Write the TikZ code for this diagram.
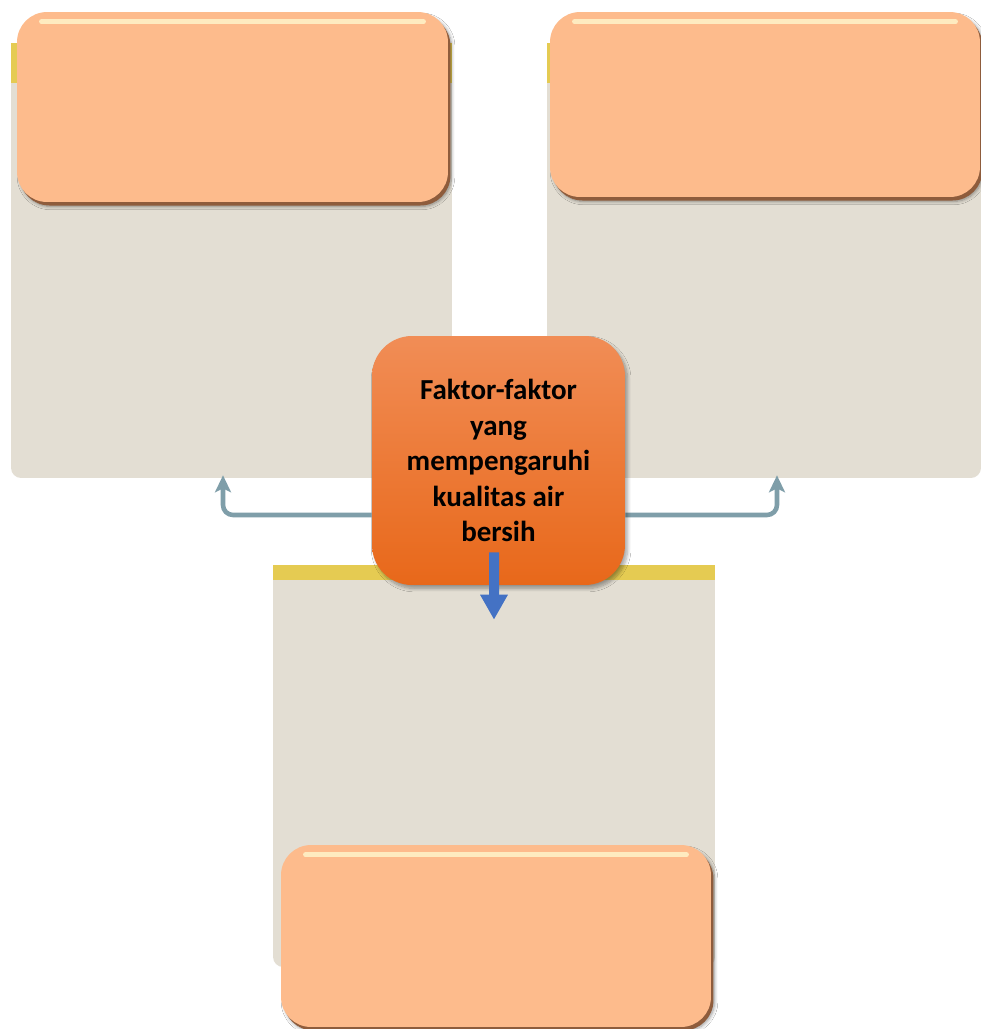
\documentclass[tikz,border=0pt]{standalone}
\usepackage{fontspec}
\setmainfont{Carlito}
\usetikzlibrary{positioning,arrows.meta,shadows,shadows.blur}
\pgfdeclarelayer{front}
\pgfsetlayers{main,front}
\definecolor{panelbeige}{HTML}{E3DED3}
\definecolor{bandyellow}{HTML}{E5CB52}
\definecolor{peach}{HTML}{FDBB8C}
\definecolor{peachrim}{HTML}{8E5C3C}
\definecolor{peachlight}{HTML}{FFF1C6}
\definecolor{hubtop}{HTML}{F18D56}
\definecolor{hubbottom}{HTML}{E8681A}
\definecolor{linkgray}{HTML}{7F9EA9}
\definecolor{downblue}{HTML}{4472C4}

\begin{document}
\begin{tikzpicture}[
    x=0.02cm, y=-0.02cm,
    panel/.style={fill=panelbeige,rounded corners=0.2cm,inner sep=0pt},
    pbox/.style={fill=peach,rounded corners=0.6cm,inner sep=0pt,
      blur shadow={shadow xshift=2pt,shadow yshift=-2.5pt,shadow opacity=40,shadow blur steps=8},
      general shadow={fill=peachrim,shadow xshift=1.4pt,shadow yshift=-2pt}},
    gleam/.style={peachlight,line width=3pt,line cap=round,opacity=.9},
    hubbox/.style={top color=hubtop,bottom color=hubbottom,rounded corners=0.8cm,
      minimum width=5.06cm,minimum height=4.98cm,inner sep=0pt,align=center,
      font=\bfseries\fontsize{16.5}{20.2}\selectfont,
      blur shadow={shadow xshift=1.5pt,shadow yshift=-2pt,shadow opacity=35,shadow blur steps=8}},
    conn/.style={draw=linkgray,line width=2.6pt,rounded corners=0.2cm,
      -{Stealth[length=0.34cm,width=0.32cm,inset=0.08cm]}},
    downarrow/.style={draw=downblue,line width=0.2cm,-{Triangle[length=0.5cm,width=0.52cm]}}
  ]

  \path[use as bounding box,fill=white] (0,0) rectangle (981,1029);

  % panels
  \node[panel,minimum width=8.82cm,minimum height=8.7cm] (lpanel) at (231.5,260.5) {};
  \node[panel,minimum width=8.68cm,minimum height=8.7cm] (rpanel) at (764,260.5) {};
  \node[panel,minimum width=8.84cm,minimum height=8.04cm] (bpanel) at (494,766) {};
  \foreach \p/\h in {lpanel/0.8cm,rpanel/0.8cm,bpanel/0.3cm}
    \fill[bandyellow] (\p.north west) rectangle ([yshift=-\h]\p.north east);

  % heading boxes
  \node[pbox,minimum width=8.62cm,minimum height=3.8cm] (lbox) at (232.5,107) {};
  \node[pbox,minimum width=8.6cm,minimum height=3.7cm] (rbox) at (765,104.5) {};
  \node[pbox,minimum width=8.6cm,minimum height=3.64cm] (bbox) at (496,936) {};
  \foreach \b in {lbox,rbox,bbox}
    \draw[gleam] ([xshift=0.5cm,yshift=-0.2cm]\b.north west) -- ([xshift=-0.5cm,yshift=-0.2cm]\b.north east);

  % centre
  \begin{pgfonlayer}{front}
    \node[hubbox] (hub) at (498.5,460.5) {Faktor-faktor\\yang\\mempengaruhi\\kualitas air\\bersih};
    \draw[downarrow] ([xshift=-0.09cm,yshift=0.66cm]hub.south) -- ([yshift=-1.1cm]bpanel.north);
  \end{pgfonlayer}

  \draw[conn] ([yshift=-1.09cm]hub.west) -| ([xshift=-0.17cm,yshift=0.06cm]lpanel.south);
  \draw[conn] ([yshift=-1.09cm]hub.east) -| ([xshift=0.26cm,yshift=0.06cm]rpanel.south);
\end{tikzpicture}
\end{document}
